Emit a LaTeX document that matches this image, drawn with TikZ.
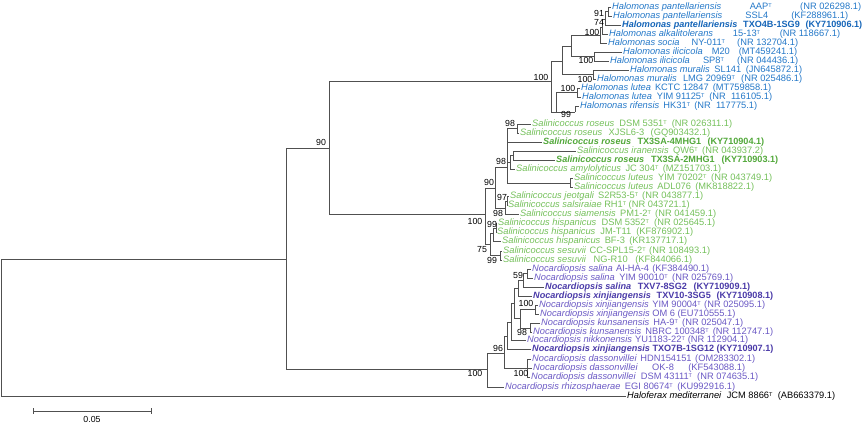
\documentclass[tikz,border=0pt]{standalone}
\usepackage{fontspec}
\setmainfont{Liberation Sans}
\definecolor{halo}{HTML}{2478C8}
\definecolor{halob}{HTML}{1565B8}
\definecolor{sali}{HTML}{74C05A}
\definecolor{salib}{HTML}{52A83A}
\definecolor{noca}{HTML}{6A58C4}
\definecolor{nocab}{HTML}{4A3AA8}
\definecolor{treeline}{HTML}{505050}
\newcommand{\tT}{\raisebox{2.4pt}{\fontsize{5.5}{5.5}\selectfont T}}
\newcommand{\gp}{\hspace{2.5pt plus 1fill}}
\newcommand{\lf}[4]{\makebox[#1pt][l]{\textit{#2}\gp #3\gp #4}}
\begin{document}
\begin{tikzpicture}[x=1pt,y=-1pt,
  br/.style={draw=treeline,line width=0.7pt},
  leaf/.style={anchor=west,xshift=-1.5pt,inner xsep=1.5pt,inner ysep=0pt,font=\fontsize{9.3}{9.3}\selectfont},
  ha/.style={leaf,text=halo},
  hab/.style={leaf,text=halob,font=\fontsize{9.1}{9.1}\selectfont\bfseries},
  sa/.style={leaf,text=sali},
  sab/.style={leaf,text=salib,font=\fontsize{9.1}{9.1}\selectfont\bfseries},
  na/.style={leaf,text=noca},
  nab/.style={leaf,text=nocab,font=\fontsize{9.1}{9.1}\selectfont\bfseries},
  og/.style={leaf,text=black},
  bs/.style={font=\fontsize{8.8}{8.8}\selectfont,inner sep=0pt,text=black}]
\useasboundingbox (0,0) rectangle (865,425);

% ---------- leaves ----------
\node[ha]  (h1)  at (612,7)     {\lf{249}{Halomonas pantellariensis}{AAP\tT}{(NR 026298.1)}};
\node[ha]  (h2)  at (613,16)    {\lf{235}{Halomonas pantellariensis}{SSL4}{(KF288961.1)}};
\node[hab] (h3)  at (622,25)    {\lf{240}{Halomonas pantellariensis}{TXO4B-1SG9}{(KY710906.1)}};
\node[ha]  (h4)  at (609,34)    {\lf{231}{Halomonas alkalitolerans}{15-13\tT}{(NR 118667.1)}};
\node[ha]  (h5)  at (608,43)    {\lf{190}{Halomonas socia}{NY-011\tT}{(NR 132704.1)}};
\node[ha]  (h6)  at (623,52)    {\lf{174}{Halomonas ilicicola}{M20}{(MT459241.1)}};
\node[ha]  (h7)  at (610,61)    {\lf{188}{Halomonas ilicicola}{SP8\tT}{(NR 044436.1)}};
\node[ha]  (h8)  at (630,70)    {\lf{172}{Halomonas muralis}{SL141}{(JN645872.1)}};
\node[ha]  (h9)  at (597,79)    {\lf{205}{Halomonas muralis}{LMG 20969\tT}{(NR 025486.1)}};
\node[ha]  (h10) at (581,88)    {\lf{190}{Halomonas lutea}{KCTC 12847}{(MT759858.1)}};
\node[ha]  (h11) at (582,97.5)  {\lf{190}{Halomonas lutea}{YIM 91125\tT}{(NR\ \ 116105.1)}};
\node[ha]  (h12) at (580,106.5) {\lf{177}{Halomonas rifensis}{HK31\tT}{(NR\ \ 117775.1)}};

\node[sa]  (s1)  at (532,124)   {\lf{200}{Salinicoccus roseus}{DSM 5351\tT}{(NR 026311.1)}};
\node[sa]  (s2)  at (520,133)   {\lf{190}{Salinicoccus roseus}{XJSL6-3}{(GQ903432.1)}};
\node[sab] (s3)  at (543,142)   {\lf{221}{Salinicoccus roseus}{TX3SA-4MHG1}{(KY710904.1)}};
\node[sa]  (s4)  at (577,151)   {\lf{186}{Salinicoccus iranensis}{QW6\tT}{(NR 043937.2)}};
\node[sab] (s5)  at (556,160)   {\lf{222}{Salinicoccus roseus}{TX3SA-2MHG1}{(KY710903.1)}};
\node[sa]  (s6)  at (516,169.5) {\lf{205}{Salinicoccus amylolyticus}{JC 304\tT}{(MZ151703.1)}};
\node[sa]  (s7)  at (574,178.5) {\lf{198}{Salinicoccus luteus}{YIM 70202\tT}{(NR 043749.1)}};
\node[sa]  (s8)  at (574,187.5) {\lf{180}{Salinicoccus luteus}{ADL076}{(MK818822.1)}};
\node[sa]  (s9)  at (510,196.5) {\lf{193}{Salinicoccus jeotgali}{S2R53-5\tT}{(NR 043877.1)}};
\node[sa]  (s10) at (508,205.5) {\lf{177}{Salinicoccus salsiraiae}{RH1\tT}{(NR 043721.1)}};
\node[sa]  (s11) at (520,214.5) {\lf{196}{Salinicoccus siamensis}{PM1-2\tT}{(NR 041459.1)}};
\node[sa]  (s12) at (498,223.5) {\lf{217}{Salinicoccus hispanicus}{DSM 5352\tT}{(NR 025645.1)}};
\node[sa]  (s13) at (497,232.5) {\lf{196}{Salinicoccus hispanicus}{JM-T11}{(KF876902.1)}};
\node[sa]  (s14) at (502,241.5) {\lf{185}{Salinicoccus hispanicus}{BF-3}{(KR137717.1)}};
\node[sa]  (s15) at (503,251)   {\lf{207}{Salinicoccus sesuvii}{CC-SPL15-2\tT}{(NR 108493.1)}};
\node[sa]  (s16) at (503,260)   {\lf{189}{Salinicoccus sesuvii}{NG-R10}{(KF844066.1)}};

\node[na]  (n1)  at (532,269)   {\lf{177}{Nocardiopsis salina}{AI-HA-4}{(KF384490.1)}};
\node[na]  (n2)  at (534,278)   {\lf{199}{Nocardiopsis salina}{YIM 90010\tT}{(NR 025769.1)}};
\node[nab] (n3)  at (545,287)   {\lf{205}{Nocardiopsis salina}{TXV7-8SG2}{(KY710909.1)}};
\node[nab] (n4)  at (533,296)   {\lf{240}{Nocardiopsis xinjiangensis}{TXV10-3SG5}{(KY710908.1)}};
\node[na]  (n5)  at (539,305)   {\lf{226}{Nocardiopsis xinjiangensis}{YIM 90004\tT}{(NR 025095.1)}};
\node[na]  (n6)  at (540,314)   {\lf{193}{Nocardiopsis xinjiangensis}{OM 6}{(EU710555.1)}};
\node[na]  (n7)  at (541,323.5) {\lf{202}{Nocardiopsis kunsanensis}{HA-9\tT}{(NR 025047.1)}};
\node[na]  (n8)  at (533,332.5) {\lf{240}{Nocardiopsis kunsanensis}{NBRC 100348\tT}{(NR 112747.1)}};
\node[na]  (n9)  at (527,340.5) {\lf{221}{Nocardiopsis nikkonensis}{YU1183-22\tT}{(NR 112904.1)}};
\node[nab] (n10) at (532,349.5) {\lf{238}{Nocardiopsis xinjiangensis}{TXO7B-1SG12}{(KY710907.1)}};
\node[na]  (n11) at (532,359)   {\lf{223}{Nocardiopsis dassonvillei}{HDN154151}{(OM283302.1)}};
\node[na]  (n12) at (533,368.5) {\lf{212}{Nocardiopsis dassonvillei}{OK-8}{(KF543088.1)}};
\node[na]  (n13) at (531,377.5) {\lf{227}{Nocardiopsis dassonvillei}{DSM 43111\tT}{(NR 074635.1)}};
\node[na]  (n14) at (505,387)   {\lf{230}{Nocardiopsis rhizosphaerae}{EGI 80674\tT}{(KU992916.1)}};
\node[og]  (hfx) at (627,396)   {\lf{208}{Haloferax mediterranei}{JCM 8866\tT}{(AB663379.1)}};

% ---------- internal nodes ----------
\coordinate (root) at (1,327);
\coordinate (A) at (286,259);
\coordinate (B) at (329,148);
\coordinate (H1) at (551,81);
\coordinate (H2) at (562,61);
\coordinate (H3) at (571,46);
\coordinate (P4) at (600,35);
\coordinate (P3) at (602,27);
\coordinate (P2) at (605,19);
\coordinate (P1) at (608,11.5);
\coordinate (I) at (594,56.5);
\coordinate (Mu) at (593,74.5);
\coordinate (LR) at (556,112);
\coordinate (L) at (577,92.7);
\coordinate (R99) at (575,112);
\coordinate (S0) at (485,214);
\coordinate (S1) at (495,188);
\coordinate (R98) at (507,167);
\coordinate (Q) at (517,128.5);
\coordinate (G) at (510,162);
\coordinate (IR) at (513,155.5);
\coordinate (Lu) at (570,183);
\coordinate (J98) at (505,208);
\coordinate (J97) at (507,201);
\coordinate (S75) at (490,244);
\coordinate (Hi) at (493,233);
\coordinate (H99) at (496,228);
\coordinate (Se) at (500,255.5);
\coordinate (N0) at (487,369);
\coordinate (N1) at (504,353);
\coordinate (M6) at (507,336);
\coordinate (M5) at (511,322);
\coordinate (M4) at (514,303);
\coordinate (M3) at (518,288);
\coordinate (M2) at (523,280);
\coordinate (M1) at (527,273.5);
\coordinate (K3) at (520,318);
\coordinate (K1) at (535,309.5);
\coordinate (K2) at (530,328);
\coordinate (D) at (527,368.5);

% ---------- branches ----------
\draw[br] (root) |- (A);  \draw[br] (root) |- (hfx.west);
\draw[br] (A) |- (B);     \draw[br] (A) |- (N0);
\draw[br] (B) |- (H1);    \draw[br] (B) |- (S0);
% Halomonas
\draw[br] (H1) |- (H2);   \draw[br] (H1) |- (LR);
\draw[br] (H2) |- (H3);   \draw[br] (H2) |- (Mu);
\draw[br] (H3) |- (P4);   \draw[br] (H3) |- (I);
\draw[br] (P4) |- (P3);   \draw[br] (P4) |- (h5.west);
\draw[br] (P3) |- (P2);   \draw[br] (P3) |- (h4.west);
\draw[br] (P2) |- (P1);   \draw[br] (P2) |- (h3.west);
\draw[br] (P1) |- (h1.west); \draw[br] (P1) |- (h2.west);
\draw[br] (I) |- (h6.west);  \draw[br] (I) |- (h7.west);
\draw[br] (Mu) |- (h8.west); \draw[br] (Mu) |- (h9.west);
\draw[br] (LR) |- (L);    \draw[br] (LR) |- (R99);
\draw[br] (L) |- (h10.west); \draw[br] (L) |- (h11.west);
\draw[br] (R99) |- (h12.west);
% Salinicoccus
\draw[br] (S0) |- (S1);   \draw[br] (S0) |- (S75);
\draw[br] (S1) |- (R98);  \draw[br] (S1) |- (J98);
\draw[br] (R98) |- (Q);   \draw[br] (R98) |- (s3.west);
\draw[br] (R98) |- (G);   \draw[br] (R98) |- (Lu);
\draw[br] (Q) |- (s1.west);  \draw[br] (Q) |- (s2.west);
\draw[br] (G) |- (IR);    \draw[br] (G) |- (s6.west);
\draw[br] (IR) |- (s4.west); \draw[br] (IR) |- (s5.west);
\draw[br] (Lu) |- (s7.west); \draw[br] (Lu) |- (s8.west);
\draw[br] (J98) |- (J97); \draw[br] (J98) |- (s11.west);
\draw[br] (J97) |- (s9.west); \draw[br] (J97) |- (s10.west);
\draw[br] (S75) |- (Hi);  \draw[br] (S75) |- (Se);
\draw[br] (Hi) |- (H99);  \draw[br] (Hi) |- (s14.west);
\draw[br] (H99) |- (s12.west); \draw[br] (H99) |- (s13.west);
\draw[br] (Se) |- (s15.west);  \draw[br] (Se) |- (s16.west);
% Nocardiopsis
\draw[br] (N0) |- (N1);   \draw[br] (N0) |- (n14.west);
\draw[br] (N1) |- (M6);   \draw[br] (N1) |- (D);
\draw[br] (M6) |- (M5);   \draw[br] (M6) |- (n10.west);
\draw[br] (M5) |- (M4);   \draw[br] (M5) |- (n9.west);
\draw[br] (M4) |- (M3);   \draw[br] (M4) |- (K3);
\draw[br] (M3) |- (M2);   \draw[br] (M3) |- (n4.west);
\draw[br] (M2) |- (M1);   \draw[br] (M2) |- (n3.west);
\draw[br] (M1) |- (n1.west); \draw[br] (M1) |- (n2.west);
\draw[br] (K3) |- (K1);   \draw[br] (K3) |- (K2);
\draw[br] (K1) |- (n5.west); \draw[br] (K1) |- (n6.west);
\draw[br] (K2) |- (n7.west); \draw[br] (K2) |- (n8.west);
\draw[br] (D) |- (n11.west); \draw[br] (D) |- (n12.west); \draw[br] (D) |- (n13.west);

% ---------- bootstrap values ----------
\node[bs] (b1) at (599,13) {91};
\node[bs] (b2) at (599,22) {74};
\node[bs] (b3) at (592,32) {100};
\node[bs] (b4) at (586,60) {100};
\node[bs] (b5) at (585,79) {100};
\node[bs] (b6) at (568,88) {100};
\node[bs] (b7) at (566,114.5) {99};
\node[bs] (b8) at (541,77) {100};
\node[bs] (b9) at (321,142) {90};
\node[bs] (b10) at (475,221) {100};
\node[bs] (b11) at (489,182) {90};
\node[bs] (b12) at (501,161) {98};
\node[bs] (b13) at (510,123) {98};
\node[bs] (b14) at (502,197) {97};
\node[bs] (b15) at (498,213) {98};
\node[bs] (b16) at (492,224) {99};
\node[bs] (b17) at (482,250) {75};
\node[bs] (b18) at (492,260) {99};
\node[bs] (b19) at (518,275) {59};
\node[bs] (b20) at (526,303) {100};
\node[bs] (b21) at (522,332) {98};
\node[bs] (b22) at (498,348) {96};
\node[bs] (b23) at (475,373) {100};
\node[bs] (b24) at (521,373) {100};

% ---------- scale bar ----------
\coordinate (sb1) at (33,411);
\coordinate (sb2) at (151,411);
\draw[br] (sb1) -- (sb2);
\draw[br] ([yshift=3pt]sb1) -- ([yshift=-3pt]sb1);
\draw[br] ([yshift=3pt]sb2) -- ([yshift=-3pt]sb2);
\node[bs] (sbl) at (92,419) {0.05};
\end{tikzpicture}
\end{document}
